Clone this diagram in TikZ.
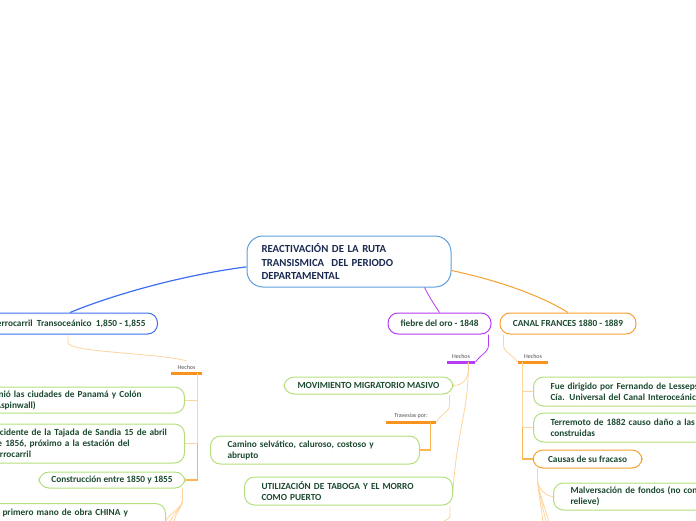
\documentclass[tikz,border=0pt]{standalone}
\usepackage{fontspec}
\setmainfont{Carlito}
\usetikzlibrary{calc}
\definecolor{cbord}{HTML}{5A9FDC}
\definecolor{bblue}{HTML}{3C6EF0}
\definecolor{pviolet}{HTML}{B63CF5}
\definecolor{orng}{HTML}{F7A030}
\definecolor{gbord}{HTML}{B4DF7C}
\definecolor{txtgreen}{HTML}{1C4A30}
\definecolor{txtnavy}{HTML}{1A2A50}
\definecolor{paleor}{HTML}{FDD49C}
\definecolor{vor}{HTML}{FBB552}
\definecolor{baror}{HTML}{F7931E}
\definecolor{labgray}{HTML}{505050}
\begin{document}
\begin{tikzpicture}[x=1pt,y=-1pt,
  central/.style={draw=cbord, line width=1pt, rounded corners=16pt, fill=white, text=txtnavy,
    font=\bfseries\fontsize{10.8}{13.5}\selectfont, align=left},
  topic/.style={line width=1pt, rounded corners=10pt, fill=white, text=txtgreen,
    font=\bfseries\fontsize{9.3}{11}\selectfont},
  gnode/.style={topic, draw=gbord, align=left, inner xsep=12pt},
  cnode/.style={topic, align=center},
  lab/.style={inner sep=0pt, minimum height=12pt, text=labgray, font=\fontsize{6}{7}\selectfont},
  bar/.style={line width=3pt},
  paleln/.style={draw=paleor, line width=0.8pt},
  vln/.style={draw=vor, line width=1.2pt},
]
\useasboundingbox (0,0) rectangle (696,520);
\clip (0,0) rectangle (696,520);

% main nodes
\node[central, minimum width=204pt, minimum height=51pt, text width=175pt] (c) at (349,261.5)
  {REACTIVACIÓN DE LA RUTA\\TRANSISMICA\ \ DEL PERIODO\\DEPARTAMENTAL};
\node[cnode, draw=bblue, anchor=east, minimum height=21pt, inner xsep=12pt] (fe) at (158,323.5)
  {Ferrocarril\ \ Transoceánico\ \ 1,850 - 1,855};
\node[cnode, draw=pviolet, minimum width=103pt, minimum height=21pt] (fi) at (439.5,323.5)
  {fiebre del oro - 1848};
\node[cnode, draw=orng, minimum width=136pt, minimum height=21pt] (ca) at (568,323.5)
  {CANAL FRANCES 1880 - 1889};

% labels
\node[lab, minimum width=31pt] (h1) at (186.5,367) {Hechos};
\node[lab, minimum width=28pt] (h2) at (461,356) {Hechos};
\node[lab, minimum width=30pt] (h3) at (533,356) {Hechos};
\node[lab, minimum width=50pt] (t1) at (411,416) {Travesías por:};

% ferrocarril children
\node[gnode, anchor=east, text width=180pt, minimum height=26pt] (f1) at (185,400)
  {Unió las ciudades de Panamá y Colón\\(Aspinwall)};
\node[gnode, anchor=east, text width=180pt, minimum height=39pt] (f2) at (185,443.5)
  {Incidente de la Tajada de Sandia 15 de abril\\de 1856, próximo a la estación del\\ferrocarril};
\node[cnode, draw=gbord, minimum width=146pt, minimum height=16pt] (f3) at (112,480)
  {Construcción entre 1850 y 1855};
\node[gnode, anchor=north east, text width=151pt, inner ysep=5pt, text depth=25pt] (f4) at (166,503)
  {primero mano de obra CHINA y};

% fiebre children
\node[cnode, draw=gbord, minimum width=169pt, minimum height=17pt] (m1) at (368.5,385.5)
  {MOVIMIENTO MIGRATORIO MASIVO};
\node[gnode, anchor=west, inner xsep=17pt, text width=175pt, minimum height=28pt] (m2) at (210,450)
  {Camino selvático, caluroso, costoso y\\abrupto};
\node[gnode, anchor=west, inner xsep=17pt, text width=174pt, minimum height=28pt] (m3) at (244,491)
  {UTILIZACIÓN DE TABOGA Y EL MORRO\\COMO PUERTO};

% canal children
\node[gnode, anchor=west, inner xsep=17pt, text width=200pt, minimum height=29pt] (k1) at (533,391.5)
  {Fue dirigido por Fernando de Lesseps\\Cía. Universal del Canal Interoceánico};
\node[gnode, anchor=west, inner xsep=17pt, text width=200pt, minimum height=29pt] (k2) at (533,427.5)
  {Terremoto de 1882 causo daño a las\\construidas};
\node[cnode, draw=orng, minimum width=109pt, minimum height=18pt] (k3) at (587.5,459)
  {Causas de su fracaso};
\node[gnode, anchor=west, inner xsep=17pt, text width=200pt, minimum height=27pt] (k4) at (553,496.5)
  {Malversación de fondos (no con\\relieve)};

% coordinates for loose ends
\coordinate (fetop) at ($(fe.north east)+(-88,0)$);
\coordinate (fe0) at ($(fe.south east)+(-90,0)$);
\coordinate (f4e) at ($(f4.north east)+(0,17)$);
\coordinate (e1) at (170,522);
\coordinate (e2) at (174,522);
\coordinate (e3) at (443,522);
\coordinate (e4) at (543,522);
\coordinate (e5) at (546,522);
\coordinate (e6) at (549,522);
\coordinate (v1) at ($(h1.south east)+(-5,0)$);
\coordinate (v2) at ($(h2.south east)+(-7,0)$);
\coordinate (v3) at ($(h3.south west)+(5,0)$);
\coordinate (v4) at ($(t1.south east)+(-6,0)$);

% main connectors
\draw[bblue, line width=1.2pt] (fetop) .. controls (120,292) and (190,274) .. (c.183.6);
\draw[pviolet, line width=0.8pt] (c.341) .. controls (430,298) .. (fi.north);
\draw[orng, line width=1pt] (c.355) .. controls (505,282) and (545,298) .. (ca.north);

% Hechos connectors
\draw[paleln] (fe0) -- ++(0,8) .. controls +(0,10) and +(-30,-8) .. (h1.north);
\draw[pviolet, line width=0.8pt] ($(fi.south east)+(-3,0)$) -- ++(0,10) .. controls +(0,8) and +(8,-10) .. (h2.south east);
\draw[paleln] ($(ca.south west)+(4,0)$) -- ++(0,10) .. controls +(0,8) and +(-8,-10) .. (h3.south west);

% bars
\draw[bar, baror] (h1.south west) -- (h1.south east);
\draw[bar, pviolet] (h2.south west) -- (h2.south east);
\draw[bar, baror] (h3.south west) -- (h3.south east);
\draw[bar, baror] (t1.south west) -- (t1.south east);

% ferrocarril branches
\draw[vln] (v1) |- (f3.east);
\draw[paleln] (v1) |- (f1.east);
\draw[paleln] (v1) |- (f2.east);
\draw[paleln] ($(f3.south east)+(-3,0)$) -- ++(0,12) .. controls +(0,6) and +(6,-8) .. (f4e);
\draw[paleln] ($(f3.south east)+(-3,0)$) -- ++(0,12) .. controls +(0,6) and +(3,-8) .. (e1);
\draw[paleln] ($(f3.south east)+(-3,0)$) -- ++(0,12) .. controls +(0,6) and +(1,-8) .. (e2);

% fiebre branches
\draw[vln] (v2) -- ++(0,8);
\draw[paleln] (v2) -- ++(0,8) .. controls +(0,8) and +(10,0) .. (m1.east);
\draw[paleln] (v2) -- ++(0,8) .. controls +(0,40) and +(4,-60) .. (m3.east);
\draw[paleln] ($(m1.south east)+(-4,0)$) -- ++(0,10) .. controls +(0,8) and +(6,-10) .. (t1.south east);
\draw[vln] (v4) |- (m2.east);
\draw[paleln] ($(m3.south east)+(-3,0)$) -- ++(0,10) .. controls +(0,4) and +(3,-3) .. (e3);

% canal branches
\draw[vln] (v3) |- (k3.west);
\draw[paleln] (v3) |- (k1.west);
\draw[paleln] (v3) |- (k2.west);
\draw[paleln] ($(k3.south west)+(5,0)$) -- ++(0,12) .. controls +(0,6) and +(-8,0) .. (k4.west);
\draw[paleln] ($(k3.south west)+(5,0)$) -- ++(0,12) .. controls +(0,6) and +(-1,-10) .. (e4);
\draw[paleln] ($(k3.south west)+(5,0)$) -- ++(0,12) .. controls +(0,6) and +(-2,-10) .. (e5);
\draw[paleln] ($(k3.south west)+(5,0)$) -- ++(0,12) .. controls +(0,6) and +(-3,-10) .. (e6);
\end{tikzpicture}
\end{document}
